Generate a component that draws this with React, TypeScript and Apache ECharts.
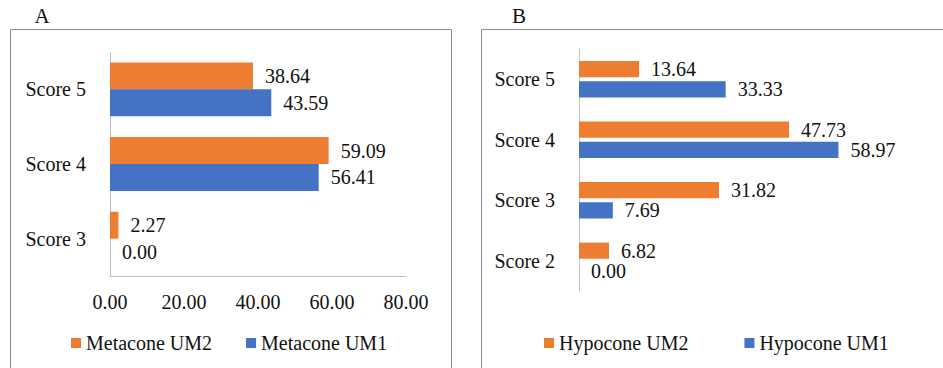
import React, { useEffect, useRef } from "react";
import * as echarts from "echarts";

// Panel A: Metacone scores
const metaconeCategories = ["Score 3", "Score 4", "Score 5"];
const metaconeUM1 = [0.0, 56.41, 43.59];
const metaconeUM2 = [2.27, 59.09, 38.64];
const metaconeTicks = [0, 20, 40, 60, 80];

// Panel B: Hypocone scores
const hypoconeCategories = ["Score 2", "Score 3", "Score 4", "Score 5"];
const hypoconeUM1 = [0.0, 7.69, 58.97, 33.33];
const hypoconeUM2 = [6.82, 31.82, 47.73, 13.64];

const FONT = "Liberation Serif";
const TEXT = "#111111";
const ORANGE = "#ED7D31";
const BLUE = "#4472C4";
const AXIS = "#bfbfbf";
const FRAME = "#8c8c8c";

export default function App() {
  const ref = useRef<HTMLDivElement>(null);

  useEffect(() => {
    if (!ref.current) return;
    const chart = echarts.init(ref.current, undefined, { renderer: "svg" });

    const label = {
      show: true,
      position: "right",
      distance: 12,
      fontFamily: FONT,
      fontSize: 20,
      color: TEXT,
      formatter: (p: any) => Number(p.value).toFixed(2),
    };

    const catAxisLabel = {
      fontFamily: FONT,
      fontSize: 20,
      color: TEXT,
      margin: 24,
    };

    chart.setOption({
      animation: false,
      backgroundColor: "#ffffff",
      textStyle: { fontFamily: FONT },
      grid: [
        { left: 110, top: 52, width: 296, height: 224 },
        { left: 579, top: 49, width: 308, height: 242 },
      ],
      xAxis: [
        {
          type: "value",
          gridIndex: 0,
          min: metaconeTicks[0],
          max: metaconeTicks[metaconeTicks.length - 1],
          interval: metaconeTicks[1] - metaconeTicks[0],
          axisLine: { show: true, lineStyle: { color: AXIS, width: 1 } },
          axisTick: { show: false },
          splitLine: { show: false },
          axisLabel: {
            fontFamily: FONT,
            fontSize: 20,
            color: TEXT,
            margin: 16,
            formatter: (v: number) => v.toFixed(2),
          },
        },
        {
          type: "value",
          gridIndex: 1,
          min: 0,
          max: 70,
          show: false,
        },
      ],
      yAxis: [
        {
          type: "category",
          gridIndex: 0,
          data: metaconeCategories,
          axisLine: { show: true, lineStyle: { color: AXIS, width: 1 } },
          axisTick: { show: false },
          axisLabel: catAxisLabel,
        },
        {
          type: "category",
          gridIndex: 1,
          data: hypoconeCategories,
          axisLine: { show: true, lineStyle: { color: AXIS, width: 1 } },
          axisTick: { show: false },
          axisLabel: catAxisLabel,
        },
      ],
      legend: [
        {
          data: ["Metacone UM2", "Metacone UM1"],
          left: 71,
          top: 333,
          icon: "rect",
          itemWidth: 10,
          itemHeight: 10,
          itemGap: 34,
          textStyle: { fontFamily: FONT, fontSize: 20, color: TEXT },
          padding: 0,
        },
        {
          data: ["Hypocone UM2", "Hypocone UM1"],
          left: 544,
          top: 333,
          icon: "rect",
          itemWidth: 10,
          itemHeight: 10,
          itemGap: 56,
          textStyle: { fontFamily: FONT, fontSize: 20, color: TEXT },
          padding: 0,
        },
      ],
      // within each category the first series sits on top
      series: [
        {
          name: "Metacone UM2",
          type: "bar",
          xAxisIndex: 0,
          yAxisIndex: 0,
          data: metaconeUM2,
          itemStyle: { color: ORANGE },
          barCategoryGap: "28%",
          barGap: "0%",
          label,
        },
        {
          name: "Metacone UM1",
          type: "bar",
          xAxisIndex: 0,
          yAxisIndex: 0,
          data: metaconeUM1,
          itemStyle: { color: BLUE },
          barCategoryGap: "28%",
          barGap: "0%",
          label,
        },
        {
          name: "Hypocone UM2",
          type: "bar",
          xAxisIndex: 1,
          yAxisIndex: 1,
          data: hypoconeUM2,
          itemStyle: { color: ORANGE },
          barCategoryGap: "40%",
          barGap: "25%",
          label,
        },
        {
          name: "Hypocone UM1",
          type: "bar",
          xAxisIndex: 1,
          yAxisIndex: 1,
          data: hypoconeUM1,
          itemStyle: { color: BLUE },
          barCategoryGap: "40%",
          barGap: "25%",
          label,
        },
      ],
      graphic: [
        {
          type: "rect",
          silent: true,
          shape: { x: 10.5, y: 29.5, width: 441, height: 360 },
          style: { fill: "none", stroke: FRAME, lineWidth: 1 },
        },
        {
          type: "rect",
          silent: true,
          shape: { x: 481.5, y: 29.5, width: 480, height: 360 },
          style: { fill: "none", stroke: FRAME, lineWidth: 1 },
        },
        {
          type: "text",
          x: 42,
          y: 16,
          style: {
            text: "A",
            fontFamily: FONT,
            fontSize: 21,
            fill: TEXT,
            align: "center",
            verticalAlign: "middle",
          },
        },
        {
          type: "text",
          x: 519,
          y: 16,
          style: {
            text: "B",
            fontFamily: FONT,
            fontSize: 21,
            fill: TEXT,
            align: "center",
            verticalAlign: "middle",
          },
        },
      ],
    });

    return () => chart.dispose();
  }, []);

  return (
    <div
      ref={ref}
      style={{ position: "fixed", left: 0, top: 0, width: 943, height: 368, background: "#fff" }}
    />
  );
}
